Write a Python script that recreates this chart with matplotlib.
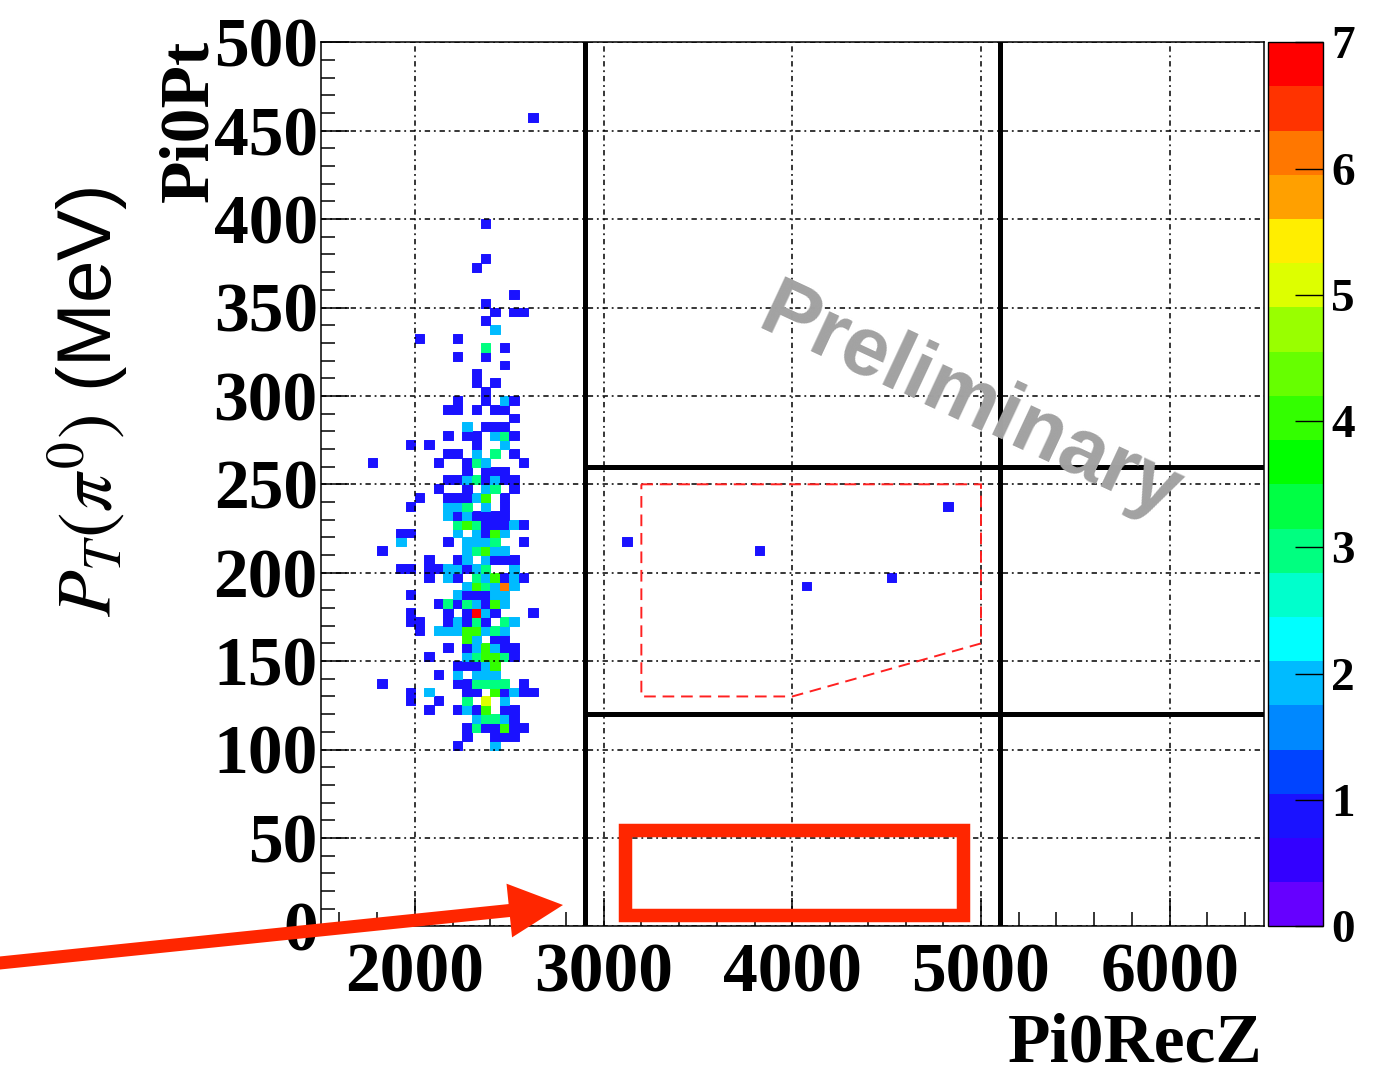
import numpy as np
import matplotlib
matplotlib.use("Agg")
import matplotlib.pyplot as plt
from matplotlib.colors import ListedColormap, BoundaryNorm
from matplotlib.patches import Polygon, Rectangle, FancyArrow
from matplotlib.ticker import MultipleLocator

# ---------------- data (bin centres) ----------------
# one entry per Pi0Pt row: the Pi0RecZ bin centres that are filled, and their contents
pt_rows = [457.5, 397.5, 377.5, 372.5, 357.5, 352.5, 347.5, 342.5, 337.5, 332.5,
           327.5, 322.5, 317.5, 312.5, 307.5, 302.5, 297.5, 292.5, 287.5, 282.5,
           277.5, 272.5, 267.5, 262.5, 257.5, 252.5, 247.5, 242.5, 237.5, 232.5,
           227.5, 222.5, 217.5, 212.5, 207.5, 202.5, 197.5, 192.5, 187.5, 182.5,
           177.5, 172.5, 167.5, 162.5, 157.5, 152.5, 147.5, 142.5, 137.5, 132.5,
           127.5, 122.5, 117.5, 112.5, 107.5, 102.5]

z_rows = [
    [2625], [2375], [2375], [2325], [2525], [2375],
    [2425, 2525, 2575], [2375], [2425], [2025, 2225],
    [2375, 2475], [2225, 2375], [2475], [2325], [2325, 2425], [2375],
    [2225, 2375, 2475, 2525],
    [2175, 2225, 2325, 2425, 2475],
    [2525],
    [2275, 2375, 2425, 2475],
    [2175, 2275, 2325, 2425, 2475, 2525],
    [1975, 2075, 2325, 2475],
    [2175, 2225, 2325, 2425, 2525],
    [1775, 2125, 2275, 2325, 2375, 2575],
    [2275, 2375, 2425, 2475],
    [2175, 2225, 2275, 2325, 2375, 2425, 2475, 2525],
    [2125, 2275, 2375, 2425, 2525],
    [2025, 2175, 2225, 2275, 2325, 2375, 2475],
    [1975, 2175, 2225, 2275, 2375, 2475, 4825],
    [2175, 2225, 2275, 2325, 2375, 2425, 2475],
    [2225, 2275, 2325, 2375, 2425, 2475, 2525, 2575],
    [1925, 1975, 2225, 2325, 2375, 2425, 2475],
    [1925, 2175, 2275, 2325, 2375, 2425, 2575, 3125],
    [1825, 2275, 2325, 2375, 2425, 2475, 3825],
    [2075, 2225, 2275, 2375, 2425, 2475, 2525],
    [1925, 1975, 2075, 2125, 2175, 2225, 2275, 2325, 2375, 2525],
    [2075, 2175, 2225, 2325, 2375, 2425, 2475, 2525, 2575, 4525],
    [2275, 2325, 2375, 2425, 2475, 2525, 4075],
    [1975, 2225, 2275, 2325, 2375, 2425, 2475],
    [2125, 2175, 2225, 2275, 2325, 2375, 2425, 2475],
    [1975, 2175, 2275, 2325, 2375, 2425, 2625],
    [1975, 2025, 2175, 2225, 2275, 2325, 2375, 2475, 2525],
    [2025, 2125, 2175, 2225, 2275, 2325, 2375, 2425, 2475],
    [2275, 2325, 2425, 2475],
    [2175, 2275, 2325, 2375, 2425, 2475, 2525],
    [2075, 2275, 2325, 2375, 2425, 2475, 2525],
    [2225, 2275, 2325, 2375, 2425],
    [2125, 2225, 2325, 2375, 2425],
    [1825, 2225, 2275, 2325, 2375, 2425, 2475, 2575],
    [1975, 2075, 2275, 2325, 2425, 2475, 2525, 2575, 2625],
    [1975, 2125, 2275, 2375, 2475],
    [2075, 2225, 2275, 2325, 2375, 2475, 2525],
    [2325, 2375, 2425, 2475, 2525],
    [2275, 2325, 2375, 2425, 2475, 2525, 2575],
    [2275, 2425, 2475, 2525],
    [2225, 2425],
]

n_rows = [
    [1], [1], [1], [1], [1], [1],
    [1, 1, 1], [1], [2], [1, 1],
    [3, 1], [1, 1], [1], [1], [1, 1], [1],
    [1, 1, 2, 1],
    [1, 1, 1, 1, 1],
    [1],
    [2, 1, 1, 1],
    [1, 1, 1, 2, 3, 1],
    [1, 1, 1, 2],
    [1, 1, 2, 3, 1],
    [1, 1, 1, 3, 2, 1],
    [1, 1, 1, 1],
    [1, 1, 2, 3, 1, 2, 1, 1],
    [1, 1, 2, 3, 1],
    [1, 1, 1, 1, 2, 4, 1],
    [1, 2, 2, 3, 2, 1, 1],
    [2, 1, 2, 1, 1, 1, 1],
    [3, 4, 3, 1, 1, 1, 2, 1],
    [1, 1, 2, 2, 1, 4, 2],
    [2, 1, 2, 2, 2, 3, 1, 1],
    [1, 2, 3, 4, 2, 2, 1],
    [1, 1, 2, 2, 1, 1, 1],
    [1, 1, 1, 1, 2, 2, 1, 2, 3, 2],
    [1, 2, 1, 3, 2, 4, 1, 2, 1, 1],
    [2, 4, 3, 2, 6, 2, 1],
    [1, 2, 1, 1, 1, 2, 2],
    [1, 3, 1, 3, 2, 1, 4, 2],
    [1, 1, 1, 7, 2, 1, 1],
    [1, 1, 1, 2, 1, 3, 1, 3, 2],
    [1, 2, 2, 2, 4, 4, 2, 3, 2],
    [4, 2, 1, 1],
    [1, 1, 2, 4, 2, 1, 1],
    [1, 2, 3, 4, 4, 3, 1],
    [1, 1, 1, 2, 4],
    [1, 2, 2, 2, 2],
    [1, 1, 1, 3, 3, 3, 3, 1],
    [1, 2, 1, 1, 4, 1, 2, 1, 1],
    [1, 1, 3, 5, 2],
    [1, 1, 2, 1, 4, 1, 1],
    [2, 3, 3, 2, 1],
    [1, 3, 1, 1, 4, 1, 1],
    [1, 1, 1, 1],
    [1, 2],
]

# cut lines and signal region
cut_z = [2900, 5100]
cut_pt = [120, 260]
box_z = [3200, 5000, 5000, 4000, 3200]
box_pt = [250, 250, 160, 130, 130]

x_ticks = [2000, 3000, 4000, 5000, 6000]
y_ticks = [0, 50, 100, 150, 200, 250, 300, 350, 400, 450, 500]
cbar_ticks = [0, 1, 2, 3, 4, 5, 6, 7]

palette = ['#6600ff', '#3300ff', '#1a12ff', '#0044ff', '#0088ff', '#00bbff',
           '#00ffff', '#00ffcc', '#00ff80', '#00ff44', '#00ff00', '#33ff00',
           '#66ff00', '#99ff00', '#ddff00', '#ffee00', '#ffa000', '#ff7700',
           '#ff3300', '#ff0000']

# ---------------- build histogram ----------------
z_all, pt_all, n_all = [], [], []
for pt, zs, ns in zip(pt_rows, z_rows, n_rows):
    assert len(zs) == len(ns)
    for z, n in zip(zs, ns):
        z_all.append(z)
        pt_all.append(pt)
        n_all.append(n)

z_edges = np.linspace(1500, 6500, 101)
pt_edges = np.linspace(0, 500, 101)
hist, _, _ = np.histogram2d(z_all, pt_all, bins=[z_edges, pt_edges], weights=n_all)
hist = np.ma.masked_equal(hist.T, 0)

plt.rcParams['font.family'] = ['Liberation Serif', 'DejaVu Serif']
plt.rcParams['mathtext.fontset'] = 'stix'

SERIF = ['Liberation Serif', 'DejaVu Serif']
SANS = ['Liberation Sans', 'DejaVu Sans']

W, H = 1393, 1076
fig = plt.figure(figsize=(W / 100, H / 100), dpi=100)
fig.patch.set_facecolor('white')

ax_l, ax_r, ax_t, ax_b = 320.6, 1264.0, 42.3, 926.3
ax = fig.add_axes([ax_l / W, 1 - ax_b / H, (ax_r - ax_l) / W, (ax_b - ax_t) / H])

cmap = ListedColormap(palette)
cmap.set_over(palette[-1])
norm = BoundaryNorm(np.linspace(0, 7, 21), cmap.N)
mesh = ax.pcolormesh(z_edges, pt_edges, hist, cmap=cmap, norm=norm,
                     shading='flat', edgecolors='face', linewidth=0.7,
                     antialiased=True, zorder=1)

ax.set_xlim(1500, 6500)
ax.set_ylim(0, 500)
ax.set_xticks(x_ticks)
ax.set_yticks(y_ticks)
ax.xaxis.set_minor_locator(MultipleLocator(200))
ax.yaxis.set_minor_locator(MultipleLocator(10))
ax.tick_params(which='both', direction='in', top=False, right=False, width=1.1, color='k')
ax.tick_params(which='major', length=20)
ax.tick_params(which='minor', length=10)
ax.tick_params(axis='y', labelsize=50, pad=2)
ax.tick_params(axis='x', labelsize=50, pad=12)
for lab in ax.get_xticklabels() + ax.get_yticklabels():
    lab.set_fontweight('bold')
    lab.set_family(SERIF)
for sp in ax.spines.values():
    sp.set_linewidth(1.1)

ax.set_axisbelow(False)
ax.grid(True, which='major', color='k', linewidth=1.1,
        linestyle=(0, (3.5, 2.5, 1.2, 2.5)))

# thick cut lines
for z in cut_z:
    ax.axvline(z, color='k', lw=3.6, zorder=3)
ax.hlines(cut_pt, cut_z[0], 6500, color='k', lw=3.6, zorder=3)

# red dashed signal box
ax.add_patch(Polygon(list(zip(box_z, box_pt)), closed=True, fill=False,
                     ec='#ff2020', lw=1.4, linestyle=(0, (6, 3.5)), zorder=3))

# colour bar
cax = fig.add_axes([1268 / W, 1 - ax_b / H, 55 / W, (ax_b - ax_t) / H])
cb = fig.colorbar(mesh, cax=cax, ticks=cbar_ticks)
cb.outline.set_linewidth(1.0)
cb.minorticks_off()
cax.tick_params(direction='in', length=20, width=1, labelsize=34, pad=6,
                right=True, left=False, color='k')
for lab in cax.get_yticklabels():
    lab.set_fontweight('bold')
    lab.set_family(SERIF)

# overlay in pixel coordinates
ov = fig.add_axes([0, 0, 1, 1], zorder=20)
ov.set_xlim(0, W)
ov.set_ylim(H, 0)
ov.axis('off')
ov.patch.set_alpha(0)

ov.text(1263, 1062, 'Pi0RecZ', ha='right', va='baseline', fontsize=50,
        fontweight='bold', family=SERIF)
ov.text(207, 40, 'Pi0Pt', rotation=90, rotation_mode='anchor', ha='right',
        va='baseline', fontsize=50, fontweight='bold', family=SERIF)
ov.text(88, 402, r'$P_T(\pi^0)$ (MeV)', rotation=90, ha='center', va='center',
        fontsize=55, fontweight='normal', family=SANS)

ov.text(755, 328, 'Preliminary', rotation=-25, rotation_mode='anchor',
        ha='left', va='baseline', fontsize=60, fontweight='bold',
        family=SANS, color='#a2a2a2')

red = '#ff2600'
ov.add_patch(Rectangle((625, 830.3), 338.3, 84.7, fill=False, ec=red, lw=9.7,
                       joinstyle='miter'))
ov.add_patch(FancyArrow(-10, 964, 573, -59, width=13, head_width=54,
                        head_length=54, length_includes_head=True,
                        color=red, lw=0))

fig.savefig('out.png', dpi=100, facecolor='white')
